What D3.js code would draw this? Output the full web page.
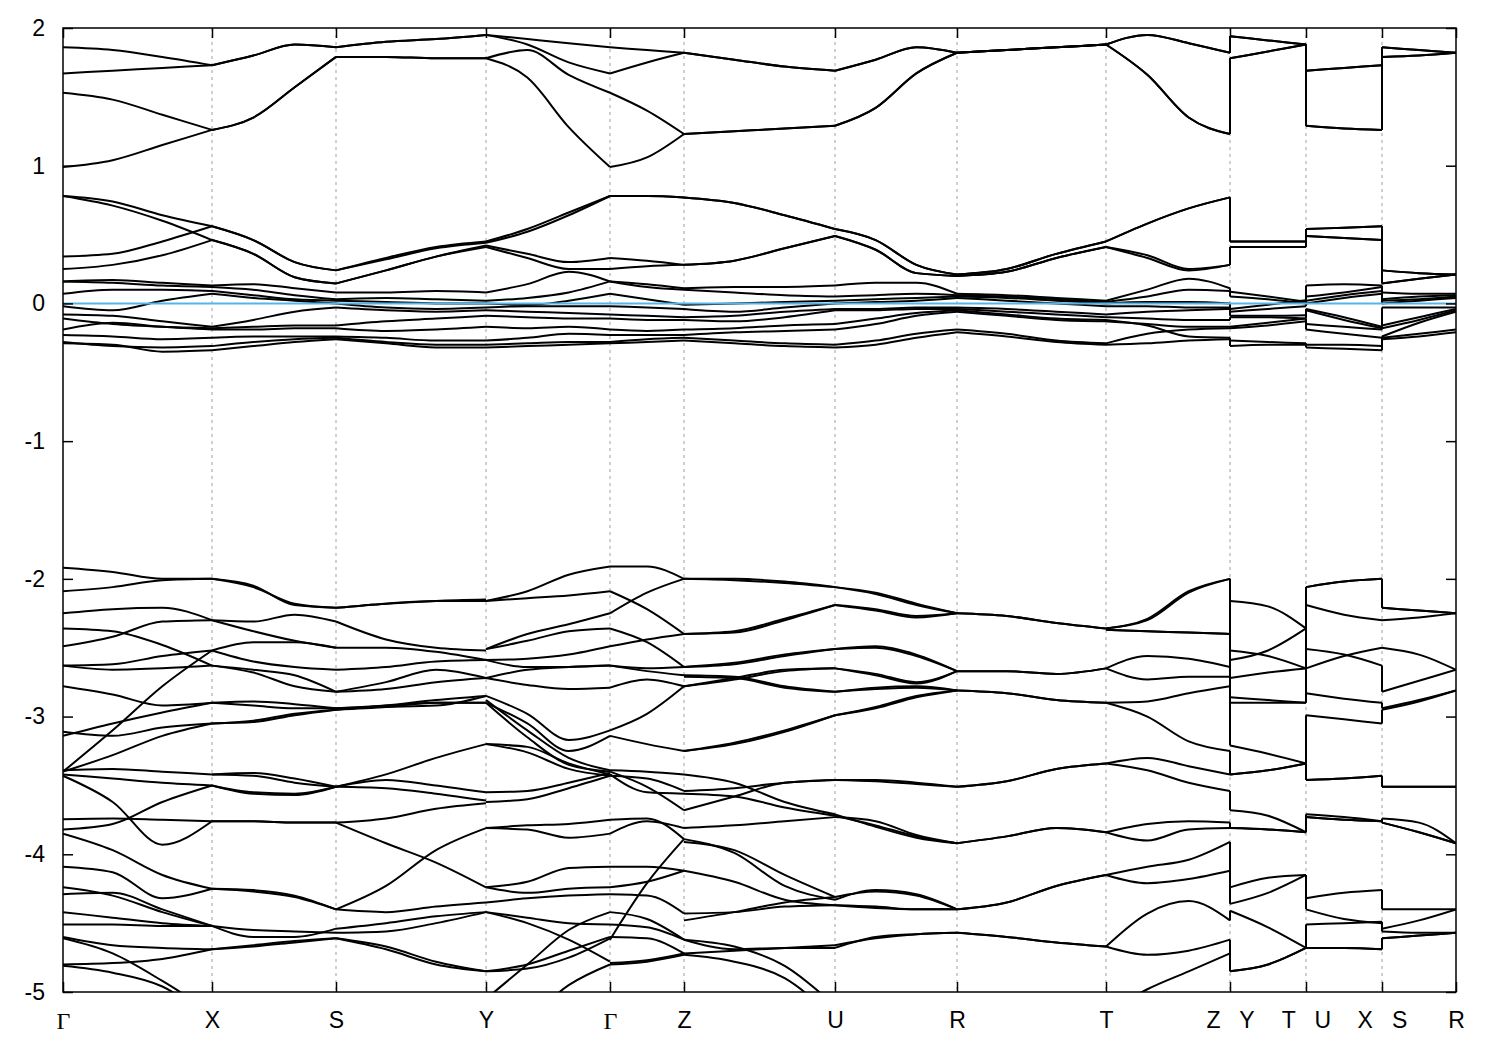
<!DOCTYPE html>
<html><head><meta charset="utf-8">
<script src="https://cdn.jsdelivr.net/npm/d3@7"></script>
<style>
body{margin:0;background:#fff;}
svg{display:block;}
.tick text{font-family:"Liberation Sans",Arial,sans-serif;font-size:23px;fill:#000;white-space:pre;}
</style></head><body>
<svg id="chart" width="1500" height="1050"></svg>
<script>
// high-symmetry k positions (path distance) and labels
const kPoints = [0, 0.149, 0.273, 0.423, 0.547, 0.621, 0.772, 0.894, 1.043, 1.167, 1.243, 1.319, 1.393];
const kLabels = ["Γ","X","S","Y","Γ","Z","U","R","T","Z   Y","T   U","X   S","R"];
const yTicks = [2, 1, 0, -1, -2, -3, -4, -5];
const fermiLevel = 0;

// band energies (eV) sampled evenly along each path segment
const segGX = [
 [1.86,1.84,1.79,1.73],[1.67,1.69,1.71,1.73],[1.53,1.48,1.37,1.26],[0.99,1.04,1.15,1.26],
 [0.78,0.74,0.64,0.56],[0.78,0.71,0.60,0.46],[0.34,0.36,0.45,0.56],[0.25,0.28,0.35,0.46],
 [0.16,0.17,0.15,0.13],[0.16,0.15,0.13,0.12],[0.07,0.10,0.10,0.09],[-0.02,-0.05,0.02,0.07],
 [-0.08,-0.09,-0.13,-0.17],[-0.11,-0.15,-0.17,-0.18],[-0.19,-0.14,-0.17,-0.19],[-0.23,-0.24,-0.26,-0.25],
 [-0.28,-0.31,-0.32,-0.31],[-0.29,-0.30,-0.35,-0.34],
 [-1.92,-1.95,-2.00,-2.00],[-2.09,-2.06,-2.01,-2.00],[-2.25,-2.22,-2.21,-2.30],[-2.49,-2.42,-2.31,-2.30],
 [-2.36,-2.38,-2.48,-2.63],[-2.63,-2.66,-2.65,-2.63],[-2.63,-2.62,-2.56,-2.52],[-2.78,-2.84,-2.92,-2.90],
 [-3.11,-3.14,-3.08,-3.05],[-3.14,-3.05,-2.97,-2.90],[-3.40,-3.10,-2.78,-2.52],[-3.40,-3.28,-3.14,-3.05],
 [-3.39,-3.38,-3.40,-3.42],[-3.42,-3.45,-3.48,-3.50],[-3.43,-3.62,-3.93,-3.76],[-3.745,-3.74,-3.75,-3.76],
 [-3.82,-3.78,-3.62,-3.50],[-3.85,-3.97,-4.15,-4.25],[-4.09,-4.13,-4.32,-4.25],[-4.24,-4.30,-4.42,-4.52],
 [-4.29,-4.28,-4.40,-4.52],[-4.42,-4.46,-4.50,-4.52],[-4.51,-4.51,-4.52,-4.52],[-4.60,-4.66,-4.68,-4.69],
 [-4.61,-4.72,-4.92,-5.15],[-4.80,-4.79,-4.76,-4.69],[-4.81,-4.86,-4.96,-5.20]
];
const segXS = [
 [1.73,1.80,1.88,1.86],[1.73,1.80,1.88,1.86],[1.26,1.35,1.57,1.79],[1.26,1.35,1.57,1.79],
 [0.56,0.46,0.30,0.24],[0.56,0.46,0.30,0.24],[0.46,0.36,0.19,0.145],[0.46,0.36,0.19,0.145],
 [0.13,0.14,0.11,0.08],[0.12,0.10,0.06,0.03],[0.09,0.06,0.03,0.02],[0.07,0.04,0.02,0.0],
 [-0.17,-0.12,-0.06,-0.03],[-0.18,-0.17,-0.16,-0.16],[-0.19,-0.19,-0.18,-0.18],[-0.25,-0.24,-0.24,-0.24],
 [-0.31,-0.28,-0.26,-0.25],[-0.34,-0.31,-0.28,-0.26],
 [-2.00,-2.05,-2.19,-2.21],[-2.00,-2.06,-2.18,-2.21],[-2.30,-2.31,-2.26,-2.31],[-2.30,-2.38,-2.45,-2.50],
 [-2.52,-2.46,-2.46,-2.50],[-2.52,-2.60,-2.64,-2.66],[-2.63,-2.66,-2.70,-2.82],[-2.63,-2.68,-2.78,-2.82],
 [-2.90,-2.89,-2.91,-2.94],[-2.90,-2.92,-2.94,-2.94],[-3.05,-3.03,-2.98,-2.95],[-3.05,-3.04,-2.99,-2.95],
 [-3.42,-3.41,-3.45,-3.51],[-3.42,-3.43,-3.48,-3.51],[-3.50,-3.56,-3.57,-3.51],[-3.50,-3.55,-3.56,-3.51],
 [-3.76,-3.76,-3.77,-3.77],[-3.76,-3.76,-3.77,-3.77],[-4.25,-4.26,-4.30,-4.40],[-4.25,-4.27,-4.31,-4.40],
 [-4.52,-4.60,-4.60,-4.54],[-4.52,-4.55,-4.56,-4.57],[-4.69,-4.66,-4.63,-4.61],[-4.69,-4.67,-4.64,-4.61]
];
const segSY = [
 [1.86,1.90,1.92,1.95],[1.86,1.90,1.92,1.95],[1.79,1.79,1.78,1.78],[1.79,1.79,1.78,1.78],
 [0.24,0.33,0.41,0.45],[0.24,0.32,0.40,0.44],[0.145,0.24,0.34,0.42],[0.145,0.24,0.34,0.41],
 [0.08,0.08,0.09,0.08],[0.03,0.04,0.03,0.02],[0.02,0.01,0.0,0.0],[0.0,-0.03,-0.04,-0.03],
 [-0.03,-0.05,-0.06,-0.05],[-0.16,-0.13,-0.11,-0.09],[-0.18,-0.20,-0.19,-0.17],[-0.24,-0.25,-0.27,-0.27],
 [-0.25,-0.28,-0.30,-0.30],[-0.26,-0.29,-0.32,-0.32],
 [-2.21,-2.18,-2.16,-2.15],[-2.21,-2.18,-2.16,-2.16],[-2.31,-2.44,-2.50,-2.52],[-2.50,-2.50,-2.53,-2.59],
 [-2.66,-2.64,-2.60,-2.59],[-2.82,-2.75,-2.66,-2.72],[-2.82,-2.80,-2.75,-2.72],[-2.94,-2.93,-2.92,-2.85],
 [-2.94,-2.92,-2.90,-2.90],[-2.95,-2.93,-2.90,-2.90],[-2.95,-2.92,-2.88,-2.85],[-3.51,-3.42,-3.30,-3.20],
 [-3.51,-3.46,-3.50,-3.55],[-3.51,-3.52,-3.56,-3.61],[-3.77,-3.92,-4.06,-4.24],[-4.40,-4.23,-3.97,-3.81],
 [-3.77,-3.74,-3.67,-3.63],[-4.40,-4.42,-4.38,-4.35],[-4.54,-4.50,-4.45,-4.42],[-4.57,-4.56,-4.50,-4.42],
 [-4.61,-4.67,-4.78,-4.85],[-4.61,-4.69,-4.80,-4.85]
];
const segYG = [
 [1.95,1.92,1.89,1.86],[1.95,1.88,1.75,1.67],[1.78,1.84,1.66,1.53],[1.78,1.64,1.28,0.99],
 [0.45,0.54,0.66,0.78],[0.44,0.52,0.64,0.78],[0.42,0.36,0.30,0.33],[0.41,0.33,0.25,0.25],
 [0.08,0.14,0.23,0.16],[0.02,0.04,0.08,0.16],[0.0,-0.01,0.02,0.07],[-0.03,-0.02,-0.02,-0.02],
 [-0.05,-0.06,-0.07,-0.08],[-0.09,-0.10,-0.11,-0.11],[-0.17,-0.18,-0.17,-0.19],[-0.27,-0.25,-0.22,-0.23],
 [-0.30,-0.29,-0.28,-0.28],[-0.32,-0.31,-0.30,-0.29],
 [-2.16,-2.09,-1.97,-1.91],[-2.16,-2.14,-2.12,-2.09],[-2.51,-2.40,-2.33,-2.25],[-2.51,-2.45,-2.38,-2.36],
 [-2.59,-2.58,-2.55,-2.49],[-2.59,-2.64,-2.64,-2.63],[-2.72,-2.66,-2.64,-2.63],[-2.72,-2.77,-2.80,-2.79],
 [-2.85,-2.98,-3.17,-3.10],[-2.90,-3.05,-3.25,-3.14],[-2.88,-3.10,-3.30,-3.39],[-2.90,-3.15,-3.35,-3.40],
 [-3.20,-3.22,-3.34,-3.42],[-3.20,-3.26,-3.38,-3.43],[-3.55,-3.54,-3.48,-3.41],[-3.62,-3.60,-3.52,-3.43],
 [-3.81,-3.82,-3.88,-3.85],[-3.81,-3.79,-3.78,-3.75],[-4.24,-4.20,-4.10,-4.09],[-4.24,-4.28,-4.25,-4.24],
 [-4.35,-4.32,-4.30,-4.29],[-4.42,-4.50,-4.62,-4.78],[-4.42,-4.46,-4.50,-4.51],[-4.85,-4.80,-4.70,-4.60],
 [-4.85,-4.83,-4.75,-4.61],[-5.05,-4.80,-4.55,-4.42],[-5.40,-5.20,-4.95,-4.80]
];
const segGZ = [
 [1.86,1.84,1.82],[1.67,1.75,1.82],[1.53,1.40,1.23],[0.99,1.06,1.23],
 [0.78,0.78,0.77],[0.78,0.78,0.77],[0.33,0.31,0.28],[0.25,0.27,0.28],
 [0.16,0.14,0.11],[0.16,0.12,0.10],[0.07,0.03,-0.01],[-0.02,-0.03,-0.04],
 [-0.08,-0.09,-0.10],[-0.11,-0.12,-0.12],[-0.19,-0.20,-0.19],[-0.23,-0.23,-0.23],
 [-0.28,-0.26,-0.25],[-0.29,-0.28,-0.27],
 [-1.91,-1.91,-2.00],[-2.09,-2.22,-2.40],[-2.25,-2.10,-2.00],[-2.36,-2.46,-2.64],
 [-2.49,-2.44,-2.40],[-2.63,-2.67,-2.70],[-2.63,-2.65,-2.64],[-2.79,-2.73,-2.78],
 [-3.10,-2.98,-2.78],[-3.14,-3.20,-3.25],[-3.39,-3.40,-3.42],[-3.40,-3.51,-3.68],
 [-3.42,-3.55,-3.56],[-3.43,-3.45,-3.54],[-3.75,-3.74,-3.89],[-3.85,-3.76,-3.81],
 [-4.09,-4.09,-4.12],[-4.24,-4.20,-4.12],[-4.29,-4.30,-4.43],[-4.42,-4.47,-4.62],
 [-4.51,-4.53,-4.62],[-4.60,-4.61,-4.72],[-4.62,-4.21,-3.89],[-4.79,-4.77,-4.72],
 [-4.80,-4.78,-4.73]
];
const segZU = [
 [1.82,1.77,1.72,1.69],[1.82,1.77,1.72,1.69],[1.23,1.25,1.27,1.29],[1.23,1.25,1.27,1.29],
 [0.77,0.73,0.64,0.54],[0.77,0.73,0.64,0.54],[0.28,0.31,0.40,0.49],[0.28,0.31,0.40,0.49],
 [0.11,0.12,0.12,0.13],[0.10,0.08,0.06,0.05],[-0.01,0.0,0.01,0.02],[-0.04,-0.06,-0.03,0.0],
 [-0.10,-0.09,-0.06,-0.04],[-0.12,-0.13,-0.10,-0.05],[-0.19,-0.18,-0.16,-0.15],[-0.23,-0.21,-0.20,-0.19],
 [-0.25,-0.27,-0.29,-0.30],[-0.27,-0.29,-0.31,-0.32],
 [-2.00,-2.00,-2.02,-2.06],[-2.00,-2.01,-2.03,-2.06],[-2.40,-2.39,-2.30,-2.19],[-2.40,-2.38,-2.29,-2.19],
 [-2.64,-2.62,-2.56,-2.51],[-2.64,-2.61,-2.55,-2.51],[-2.70,-2.71,-2.78,-2.82],[-2.71,-2.72,-2.79,-2.82],
 [-2.78,-2.72,-2.66,-2.65],[-2.78,-2.73,-2.67,-2.65],[-3.25,-3.19,-3.10,-2.99],[-3.25,-3.20,-3.11,-2.99],
 [-3.42,-3.48,-3.62,-3.71],[-3.56,-3.58,-3.66,-3.72],[-3.68,-3.58,-3.48,-3.46],[-3.54,-3.52,-3.48,-3.46],
 [-3.81,-3.79,-3.76,-3.73],[-3.89,-3.99,-4.23,-4.33],[-3.91,-3.97,-4.15,-4.31],[-4.12,-4.20,-4.33,-4.37],
 [-4.43,-4.42,-4.38,-4.37],[-4.48,-4.42,-4.35,-4.31],[-4.62,-4.69,-4.68,-4.68],[-4.72,-4.70,-4.68,-4.66],
 [-4.62,-4.67,-4.81,-5.10],[-4.73,-4.78,-4.90,-5.20]
];
const segUR = [
 [1.69,1.77,1.86,1.82],[1.69,1.77,1.86,1.82],[1.29,1.42,1.67,1.82],[1.29,1.42,1.67,1.82],
 [0.54,0.46,0.28,0.21],[0.54,0.46,0.28,0.21],[0.49,0.39,0.22,0.20],[0.49,0.39,0.22,0.20],
 [0.13,0.15,0.15,0.07],[0.05,0.06,0.07,0.06],[0.02,0.03,0.04,0.05],[0.0,0.01,0.02,0.04],
 [-0.04,-0.04,-0.03,-0.03],[-0.05,-0.05,-0.04,-0.04],[-0.15,-0.11,-0.07,-0.05],[-0.19,-0.15,-0.09,-0.06],
 [-0.30,-0.27,-0.22,-0.19],[-0.32,-0.30,-0.25,-0.21],
 [-2.06,-2.10,-2.18,-2.25],[-2.06,-2.11,-2.19,-2.25],[-2.19,-2.23,-2.28,-2.25],[-2.19,-2.22,-2.27,-2.25],
 [-2.51,-2.49,-2.55,-2.67],[-2.51,-2.50,-2.56,-2.67],[-2.65,-2.70,-2.76,-2.67],[-2.65,-2.69,-2.75,-2.67],
 [-2.82,-2.79,-2.78,-2.81],[-2.82,-2.80,-2.79,-2.81],[-2.99,-2.93,-2.85,-2.81],[-2.99,-2.94,-2.86,-2.81],
 [-3.46,-3.46,-3.48,-3.51],[-3.46,-3.47,-3.49,-3.51],[-3.71,-3.80,-3.88,-3.92],[-3.72,-3.79,-3.87,-3.92],
 [-3.73,-3.76,-3.86,-3.92],[-4.33,-4.26,-4.29,-4.40],[-4.31,-4.27,-4.30,-4.40],[-4.37,-4.39,-4.40,-4.40],
 [-4.37,-4.38,-4.40,-4.40],[-4.68,-4.60,-4.58,-4.57],[-4.66,-4.61,-4.58,-4.57]
];
const segRT = [
 [1.82,1.84,1.86,1.88],[1.82,1.84,1.86,1.88],[1.82,1.84,1.86,1.88],[1.82,1.84,1.86,1.88],
 [0.21,0.25,0.36,0.45],[0.21,0.25,0.36,0.45],[0.20,0.23,0.33,0.41],[0.20,0.23,0.33,0.41],
 [0.07,0.06,0.04,0.02],[0.06,0.05,0.03,0.01],[0.05,0.04,0.02,0.0],[0.04,0.02,0.0,-0.02],
 [-0.03,-0.04,-0.06,-0.08],[-0.04,-0.06,-0.08,-0.10],[-0.05,-0.08,-0.11,-0.12],[-0.06,-0.09,-0.12,-0.13],
 [-0.19,-0.22,-0.27,-0.29],[-0.21,-0.24,-0.28,-0.30],
 [-2.25,-2.27,-2.32,-2.36],[-2.25,-2.27,-2.32,-2.36],[-2.67,-2.67,-2.69,-2.65],[-2.67,-2.67,-2.69,-2.65],
 [-2.81,-2.83,-2.88,-2.90],[-2.81,-2.83,-2.88,-2.90],[-3.51,-3.47,-3.38,-3.34],[-3.51,-3.47,-3.38,-3.34],
 [-3.92,-3.87,-3.81,-3.84],[-3.92,-3.87,-3.81,-3.84],[-4.40,-4.35,-4.23,-4.15],[-4.40,-4.35,-4.23,-4.15],
 [-4.57,-4.60,-4.64,-4.67],[-4.57,-4.60,-4.64,-4.67]
];
const segTZ = [
 [1.88,1.95,1.89,1.82],[1.88,1.95,1.89,1.82],[1.88,1.66,1.35,1.23],[1.88,1.66,1.35,1.23],
 [0.45,0.58,0.69,0.77],[0.45,0.58,0.69,0.77],[0.41,0.35,0.25,0.28],[0.41,0.33,0.24,0.28],
 [0.02,0.10,0.18,0.11],[0.01,0.05,0.10,0.09],[0.0,0.01,0.01,0.0],[-0.02,-0.02,-0.03,-0.03],
 [-0.08,-0.06,-0.05,-0.04],[-0.10,-0.11,-0.12,-0.12],[-0.12,-0.16,-0.24,-0.25],[-0.13,-0.15,-0.17,-0.17],
 [-0.29,-0.22,-0.19,-0.18],[-0.30,-0.29,-0.27,-0.26],
 [-2.36,-2.29,-2.09,-2.00],[-2.36,-2.30,-2.10,-2.00],[-2.37,-2.38,-2.39,-2.40],[-2.37,-2.38,-2.39,-2.40],
 [-2.65,-2.56,-2.58,-2.64],[-2.65,-2.73,-2.71,-2.71],[-2.90,-2.89,-2.83,-2.78],[-2.90,-3.00,-3.18,-3.25],
 [-3.34,-3.30,-3.36,-3.42],[-3.34,-3.39,-3.48,-3.54],[-3.84,-3.90,-3.82,-3.81],[-3.84,-3.78,-3.76,-3.77],
 [-4.15,-4.21,-4.18,-4.12],[-4.15,-4.09,-4.04,-3.91],[-4.67,-4.43,-4.34,-4.48],[-4.67,-4.73,-4.70,-4.62],
 [-5.15,-4.98,-4.85,-4.72]
];
const segYT = [
 [1.94,1.91,1.88],[1.94,1.91,1.88],[1.78,1.83,1.88],[1.78,1.83,1.88],
 [0.45,0.45,0.45],[0.45,0.45,0.45],[0.41,0.41,0.41],[0.41,0.41,0.41],
 [0.085,0.05,0.012],[0.05,0.03,0.0],[-0.04,-0.01,0.024],[-0.06,-0.04,-0.02],
 [-0.09,-0.09,-0.085],[-0.10,-0.10,-0.11],[-0.17,-0.14,-0.11],[-0.18,-0.16,-0.13],
 [-0.27,-0.28,-0.29],[-0.31,-0.30,-0.30],
 [-2.16,-2.20,-2.36],[-2.59,-2.52,-2.36],[-2.52,-2.56,-2.65],[-2.72,-2.68,-2.65],
 [-2.86,-2.88,-2.90],[-2.90,-2.90,-2.90],[-3.21,-3.27,-3.34],[-3.42,-3.39,-3.34],
 [-3.42,-3.39,-3.34],[-3.68,-3.72,-3.84],[-3.81,-3.82,-3.84],[-3.81,-3.82,-3.84],
 [-4.24,-4.17,-4.15],[-4.36,-4.28,-4.15],[-4.41,-4.53,-4.68],[-4.85,-4.80,-4.68],
 [-4.85,-4.80,-4.68]
];
const segUX = [
 [1.69,1.71,1.73],[1.69,1.71,1.73],[1.29,1.27,1.26],[1.29,1.27,1.26],
 [0.54,0.55,0.56],[0.54,0.55,0.56],[0.49,0.475,0.46],[0.49,0.475,0.46],
 [0.13,0.14,0.13],[0.05,0.08,0.12],[0.02,0.06,0.09],[0.0,0.04,0.07],
 [-0.04,-0.10,-0.17],[-0.05,-0.12,-0.18],[-0.15,-0.17,-0.19],[-0.19,-0.22,-0.25],
 [-0.30,-0.30,-0.31],[-0.32,-0.33,-0.34],
 [-2.06,-2.02,-2.00],[-2.06,-2.02,-2.00],[-2.19,-2.26,-2.30],[-2.51,-2.55,-2.63],
 [-2.65,-2.56,-2.50],[-2.83,-2.87,-2.90],[-2.99,-3.02,-3.05],[-3.46,-3.45,-3.43],
 [-3.46,-3.45,-3.43],[-3.71,-3.73,-3.76],[-3.73,-3.75,-3.76],[-3.73,-3.75,-3.76],
 [-4.32,-4.28,-4.26],[-4.40,-4.47,-4.50],[-4.51,-4.50,-4.49],[-4.68,-4.68,-4.69],
 [-4.68,-4.68,-4.69]
];
const segSR = [
 [1.86,1.84,1.82],[1.86,1.84,1.82],[1.79,1.80,1.82],[1.79,1.80,1.82],
 [0.24,0.22,0.21],[0.24,0.22,0.21],[0.145,0.18,0.21],[0.145,0.18,0.21],
 [0.08,0.07,0.07],[0.03,0.05,0.06],[0.02,0.03,0.05],[0.0,0.02,0.04],
 [-0.03,-0.03,-0.03],[-0.16,-0.10,-0.04],[-0.18,-0.12,-0.05],[-0.24,-0.14,-0.06],
 [-0.25,-0.22,-0.19],[-0.26,-0.24,-0.21],
 [-2.21,-2.23,-2.25],[-2.21,-2.23,-2.25],[-2.30,-2.28,-2.25],[-2.50,-2.55,-2.66],
 [-2.82,-2.74,-2.66],[-2.94,-2.88,-2.81],[-2.95,-2.89,-2.81],[-3.51,-3.51,-3.51],
 [-3.51,-3.51,-3.51],[-3.74,-3.77,-3.92],[-3.77,-3.84,-3.92],[-3.77,-3.84,-3.92],
 [-4.40,-4.40,-4.40],[-4.54,-4.48,-4.40],[-4.56,-4.57,-4.57],[-4.61,-4.59,-4.57],
 [-4.61,-4.59,-4.57]
];

const segments = [
  {from:0, to:1, bands:segGX}, {from:1, to:2, bands:segXS}, {from:2, to:3, bands:segSY},
  {from:3, to:4, bands:segYG}, {from:4, to:5, bands:segGZ}, {from:5, to:6, bands:segZU},
  {from:6, to:7, bands:segUR}, {from:7, to:8, bands:segRT}, {from:8, to:9, bands:segTZ},
  {from:9, to:10, bands:segYT}, {from:10, to:11, bands:segUX}, {from:11, to:12, bands:segSR}
];
// discontinuities of the path: band n jumps vertically at these k positions
const breaks = [{at:9, before:segTZ, after:segYT}, {at:10, before:segYT, after:segUX}, {at:11, before:segUX, after:segSR}];

const plot = {left:63, right:1456, top:28, bottom:992};
const x = d3.scaleLinear().domain([kPoints[0], kPoints[kPoints.length-1]]).range([plot.left, plot.right]);
const y = d3.scaleLinear().domain([-5, 2]).range([plot.bottom, plot.top]);
const svg = d3.select("#chart");

svg.append("defs").append("clipPath").attr("id","clip").append("rect")
  .attr("x", plot.left).attr("y", plot.top)
  .attr("width", plot.right - plot.left).attr("height", plot.bottom - plot.top);

// dotted vertical grid lines at interior high-symmetry points
svg.append("g").selectAll("line").data(kPoints.slice(1, -1)).join("line")
  .attr("x1", d => x(d)).attr("x2", d => x(d))
  .attr("y1", plot.top).attr("y2", plot.bottom)
  .attr("stroke", "#a0a0a0").attr("stroke-width", 1).attr("stroke-dasharray", "3,4");

const bandG = svg.append("g").attr("clip-path", "url(#clip)")
  .attr("fill", "none").attr("stroke", "#000").attr("stroke-width", 2).attr("stroke-linejoin","round");
const line = d3.line().x(d => x(d[0])).y(d => y(d[1])).curve(d3.curveMonotoneX);

segments.forEach(seg => {
  const k0 = kPoints[seg.from], k1 = kPoints[seg.to];
  seg.bands.forEach(b => {
    const n = b.length - 1;
    const pts = b.map((e, i) => [k0 + (k1 - k0) * i / n, e]);
    bandG.append("path").attr("d", line(pts));
  });
});

breaks.forEach(br => {
  const ends = br.before.map(c => c[c.length - 1]).sort((a, b) => b - a);
  const starts = br.after.map(c => c[0]).sort((a, b) => b - a);
  const n = Math.min(ends.length, starts.length);
  for (let i = 0; i < n; i++) {
    bandG.append("line")
      .attr("x1", x(kPoints[br.at])).attr("x2", x(kPoints[br.at]))
      .attr("y1", y(ends[i])).attr("y2", y(starts[i]));
  }
});

// Fermi level
svg.append("line").attr("clip-path", "url(#clip)")
  .attr("x1", plot.left).attr("x2", plot.right)
  .attr("y1", y(fermiLevel)).attr("y2", y(fermiLevel))
  .attr("stroke", "#56b4e9").attr("stroke-width", 2);

// axes (ticks point inward, mirrored on top/right)
const gx = svg.append("g").attr("transform", `translate(0,${plot.bottom})`)
  .call(d3.axisBottom(x).tickValues(kPoints).tickFormat((d, i) => kLabels[i])
    .tickSizeInner(-10).tickSizeOuter(0).tickPadding(20));
gx.selectAll(".tick text")
  .each(function(d, i){ if (kLabels[i] === "Γ") d3.select(this).style("font-family", '"Liberation Serif","DejaVu Serif",serif').style("font-size","24px"); });
const gxt = svg.append("g").attr("transform", `translate(0,${plot.top})`)
  .call(d3.axisTop(x).tickValues(kPoints).tickFormat("").tickSizeInner(-10).tickSizeOuter(0));
const gy = svg.append("g").attr("transform", `translate(${plot.left},0)`)
  .call(d3.axisLeft(y).tickValues(yTicks).tickFormat(d => String(d))
    .tickSizeInner(-10).tickSizeOuter(0).tickPadding(18));
const gyr = svg.append("g").attr("transform", `translate(${plot.right},0)`)
  .call(d3.axisRight(y).tickValues(yTicks).tickFormat("").tickSizeInner(-10).tickSizeOuter(0));
[gx, gxt, gy, gyr].forEach(g => {
  g.select(".domain").remove();
  g.selectAll(".tick line").attr("stroke", "#000").attr("stroke-width", 1.5);
});

// frame
svg.append("rect").attr("x", plot.left).attr("y", plot.top)
  .attr("width", plot.right - plot.left).attr("height", plot.bottom - plot.top)
  .attr("fill", "none").attr("stroke", "#000").attr("stroke-width", 1.5);
</script>
</body></html>
